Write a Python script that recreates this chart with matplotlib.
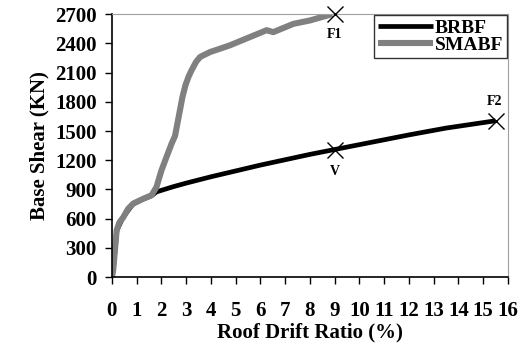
import numpy as np
import matplotlib
matplotlib.use('Agg')
import matplotlib.pyplot as plt

# pushover curves
brbf_x = [0, 0.05, 0.2, 0.45, 0.85, 1.25, 1.6, 1.8, 2.5, 3.0, 4.0, 5.0, 6.0, 7.0, 8.0, 9.0, 10.5, 12.0, 13.5, 15.5]
brbf_y = [0, 70, 480, 615, 750, 800, 835, 875, 930, 965, 1030, 1090, 1150, 1205, 1260, 1310, 1385, 1460, 1530, 1605]

smabf_x = [0, 0.05, 0.19, 0.3, 0.46, 0.65, 0.86, 1.27, 1.6, 1.8, 2.0, 2.2, 2.41, 2.55, 2.7, 2.85, 2.97, 3.1, 3.22, 3.4, 3.56, 3.96, 4.77, 5.58, 6.25, 6.52, 7.33, 8.0, 8.9]
smabf_y = [0, 70, 480, 560, 615, 700, 755, 805, 840, 925, 1095, 1230, 1370, 1450, 1650, 1850, 1970, 2060, 2125, 2210, 2260, 2310, 2380, 2465, 2535, 2515, 2600, 2635, 2700]

# marked points
pt_x = [9.0, 15.5, 9.0]
pt_y = [2700, 1605, 1310]
pt_lab = ['F1', 'F2', 'V']
pt_off = [(0, -17), (-1, 11), (0, -18)]

xticks = list(range(0, 17))
yticks = list(range(0, 2701, 300))

plt.rcParams['font.family'] = ['Liberation Serif', 'DejaVu Serif']
plt.rcParams['font.weight'] = 'bold'

fig = plt.figure(figsize=(5.28, 3.53), dpi=100)
ax = fig.add_axes([0.212, 0.215, 0.75, 0.745])

ax.plot(brbf_x, brbf_y, color='black', lw=3.4, label='BRBF', solid_capstyle='butt')
ax.plot(smabf_x, smabf_y, color='#808080', lw=4.4, label='SMABF', solid_capstyle='butt')
ax.plot(pt_x, pt_y, 'x', color='black', ms=12, mew=1.0, clip_on=False, zorder=5)

for x, y, s, off in zip(pt_x, pt_y, pt_lab, pt_off):
    ax.annotate(s, (x, y), xytext=off, textcoords='offset points', ha='center',
                fontsize=10, fontweight='bold')

ax.set_xlim(0, 16)
ax.set_ylim(0, 2700)
ax.set_xticks(xticks)
ax.set_yticks(yticks)
ax.tick_params(axis='both', direction='out', length=5, width=1, labelsize=15)
ax.tick_params(axis='x', pad=12)
ax.tick_params(axis='y', pad=6)
for lab in ax.get_xticklabels() + ax.get_yticklabels():
    lab.set_fontweight('bold')

ax.spines['top'].set_color('#a0a0a0')
ax.spines['right'].set_color('#a0a0a0')
ax.spines['left'].set_linewidth(1.2)
ax.spines['bottom'].set_linewidth(1.2)

ax.set_xlabel('Roof Drift Ratio (%)', fontsize=15, fontweight='bold', labelpad=1)
ax.set_ylabel('Base Shear (KN)', fontsize=15, fontweight='bold', labelpad=4)

leg = ax.legend(loc='upper right', fontsize=14, frameon=True, fancybox=False,
                handlelength=2.8, handletextpad=0.1, borderpad=0.2, labelspacing=0.0,
                borderaxespad=0.05)
leg.get_frame().set_edgecolor('black')
leg.get_frame().set_linewidth(1.0)
for t in leg.get_texts():
    t.set_fontweight('bold')

fig.savefig('out.png', dpi=100)
